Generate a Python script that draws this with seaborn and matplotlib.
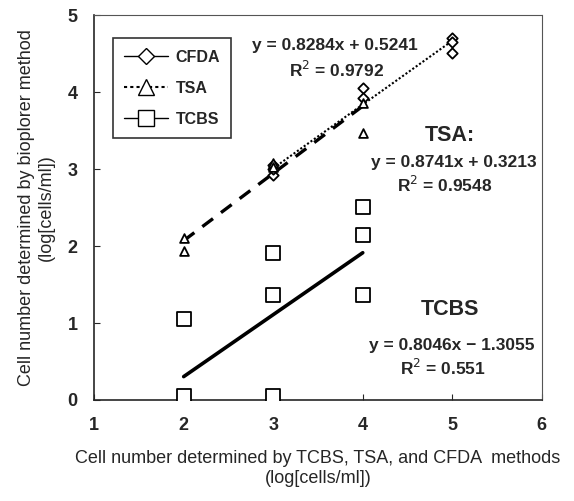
import matplotlib
matplotlib.use("Agg")
import matplotlib.pyplot as plt
import seaborn as sns
import pandas as pd
from matplotlib.lines import Line2D

# measured points (log cells/ml)
cfda_x = [3, 3, 3, 4, 4, 5, 5, 5]
cfda_y = [2.92, 3.00, 3.05, 4.05, 3.92, 4.70, 4.65, 4.51]
tsa_x = [2, 2, 3, 3, 4, 4]
tsa_y = [2.10, 1.93, 3.08, 3.02, 3.86, 3.47]
tcbs_x = [2, 2, 3, 3, 3, 4, 4, 4]
tcbs_y = [1.05, 0.05, 1.91, 1.36, 0.05, 2.51, 2.14, 1.36]

# regression lines (slope, intercept, x range)
fit_cfda = (0.8284, 0.5241, [3, 5])
fit_tsa = (0.8741, 0.3213, [2, 4])
fit_tcbs = (0.8046, -1.3055, [2, 4])

sns.set_style("ticks")
plt.rcParams['font.family'] = ['Liberation Sans', 'DejaVu Sans']

fig = plt.figure(figsize=(5.74, 5.01), dpi=100)
ax = fig.add_axes([0.164, 0.2016, 0.780, 0.7684])


def fit_df(fit):
    a, b, xr = fit
    return pd.DataFrame({'x': xr, 'y': [a * v + b for v in xr]})


sns.lineplot(data=fit_df(fit_tsa), x='x', y='y', ax=ax, color='black',
             lw=2.4, linestyle=(0, (4, 3)))
sns.lineplot(data=fit_df(fit_cfda), x='x', y='y', ax=ax, color='black',
             lw=1.5, linestyle=(0, (1, 1)))
sns.lineplot(data=fit_df(fit_tcbs), x='x', y='y', ax=ax, color='black', lw=2.6)

mk = dict(facecolor='white', edgecolor='black', linewidth=1.3, legend=False, zorder=3)
sns.scatterplot(x=cfda_x, y=cfda_y, marker='D', s=28, ax=ax, **mk)
sns.scatterplot(x=tsa_x, y=tsa_y, marker='^', s=40, ax=ax, **mk)
sns.scatterplot(x=tcbs_x, y=tcbs_y, marker='s', s=95, ax=ax, **mk)

ax.set_xlim(1, 6)
ax.set_ylim(0, 5)
ax.set_xticks([1, 2, 3, 4, 5, 6])
ax.set_yticks([0, 1, 2, 3, 4, 5])
ax.tick_params(direction='in', length=4, labelsize=13, pad=12)
for lab in ax.get_xticklabels() + ax.get_yticklabels():
    lab.set_fontweight('bold')

for side in ['top', 'right']:
    ax.spines[side].set_linestyle((0, (1, 1)))
    ax.spines[side].set_linewidth(0.8)
    ax.spines[side].set_color('#555555')
ax.spines['left'].set_linewidth(1.2)
ax.spines['bottom'].set_linewidth(1.2)

ax.set_xlabel('Cell number determined by TCBS, TSA, and CFDA  methods\n(log[cells/ml])',
              fontsize=13, labelpad=12)
ax.set_ylabel('Cell number determined by bioplorer method\n(log[cells/ml])',
              fontsize=13, labelpad=9)

tk = dict(fontsize=12.5, fontweight='bold', ha='center', va='center')
ax.text(3.69, 4.61, 'y = 0.8284x + 0.5241', **tk)
ax.text(3.71, 4.29, 'R$^2$ = 0.9792', **tk)
ax.text(4.97, 3.44, 'TSA:', fontsize=15.5, fontweight='bold', ha='center', va='center')
ax.text(5.02, 3.08, 'y = 0.8741x + 0.3213', **tk)
ax.text(4.92, 2.79, 'R$^2$ = 0.9548', **tk)
ax.text(4.97, 1.17, 'TCBS', fontsize=15.5, fontweight='bold', ha='center', va='center')
ax.text(4.99, 0.71, 'y = 0.8046x \u2212 1.3055', **tk)
ax.text(4.89, 0.42, 'R$^2$ = 0.551', **tk)

handles = [
    Line2D([], [], color='black', lw=1, marker='D', markersize=8,
           markerfacecolor='white', markeredgecolor='black'),
    Line2D([], [], color='black', lw=1.5, linestyle=(0, (1.5, 1.5)), marker='^',
           markersize=11, markerfacecolor='white', markeredgecolor='black'),
    Line2D([], [], color='black', lw=1, marker='s', markersize=11,
           markerfacecolor='white', markeredgecolor='black'),
]
leg = ax.legend(handles, ['CFDA', 'TSA', 'TCBS'], loc='upper left',
                bbox_to_anchor=(0.025, 0.96), frameon=True, fancybox=False,
                edgecolor='black', handlelength=2.7, handletextpad=0.5,
                labelspacing=1.0, borderpad=0.7,
                prop={'weight': 'bold', 'size': 11.5})
leg.get_frame().set_linewidth(1.2)

fig.savefig('out.png', dpi=100)
